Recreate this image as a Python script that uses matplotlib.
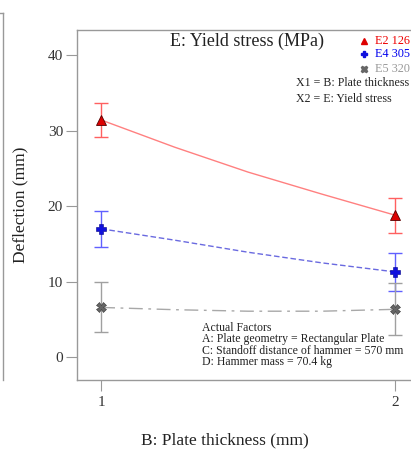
import matplotlib.pyplot as plt
from matplotlib.lines import Line2D

# points (B: plate thickness)
x_curve = [1.0, 1.25, 1.5, 1.75, 2.0]
e2_curve = [31.4, 27.8, 24.5, 21.6, 18.8]
e4_curve = [17.0, 15.5, 13.9, 12.5, 11.3]
e5_curve = [6.6, 6.3, 6.1, 6.1, 6.35]

# design points with error bars
x_pts = [1, 2]
e2_pts = [31.4, 18.8]
e2_err = [2.3, 2.3]
e4_pts = [17.0, 11.3]
e4_err = [2.4, 2.55]
e5_pts = [6.6, 6.4]
e5_err = [3.3, 3.4]

legend_labels = ["E2 126", "E4 305", "E5 320"]
factor_lines = ["Actual Factors",
                "A: Plate geometry = Rectangular Plate",
                "C: Standoff distance of hammer = 570 mm",
                "D: Hammer mass = 70.4 kg"]

plt.rcParams['font.family'] = ['Liberation Serif', 'DejaVu Serif']

fig = plt.figure(figsize=(4.11, 4.59), dpi=100)
ax = fig.add_axes([77 / 411, 1 - 380 / 459, 1 - 77 / 411, 350 / 459])

ax.plot(x_curve, e2_curve, color='#ff8080', lw=1.0, ls='-')
ax.plot(x_curve, e4_curve, color='#6a6ae0', lw=1.0, ls=(0, (4, 2)))
ax.plot(x_curve, e5_curve, color='#a8a8a8', lw=1.0, ls=(0, (10, 4, 2, 4)))

ax.errorbar(x_pts, e2_pts, yerr=e2_err, fmt='none', ecolor='#ff6060', elinewidth=1.0, capsize=5, capthick=1.0)
ax.errorbar(x_pts, e4_pts, yerr=e4_err, fmt='none', ecolor='#6060ff', elinewidth=1.0, capsize=5, capthick=1.0)
ax.errorbar(x_pts, e5_pts, yerr=e5_err, fmt='none', ecolor='#a0a0a0', elinewidth=1.0, capsize=5, capthick=1.0)

ax.plot(x_pts, e2_pts, ls='none', marker='^', ms=6.5, mfc='#dd0000', mec='#550000', mew=0.6)
ax.plot(x_pts, e4_pts, ls='none', marker='P', ms=6.5, mfc='#1010dd', mec='#000088', mew=0.4)
ax.plot(x_pts, e5_pts, ls='none', marker='X', ms=6.5, mfc='#666666', mec='#333333', mew=0.4)

ax.set_xlim(0.918, 2.054)
ax.set_ylim(-3.0, 43.3)
ax.set_xticks([1, 2])
ax.set_yticks([0, 10, 20, 30, 40])
ax.tick_params(direction='out', length=8, width=0.8, color='#999999', labelsize=11, labelcolor='#333333')
ax.tick_params(axis='y', pad=2)
for s in ['left', 'top', 'bottom']:
    ax.spines[s].set_color('#999999')
    ax.spines[s].set_linewidth(1.0)
ax.spines['right'].set_visible(False)

fig.text(20 / 411, 1 - 205 / 459, "Deflection (mm)", rotation=90, ha='center', va='center', fontsize=12.5, color='#222222')
fig.text(225 / 411, 1 - 440 / 459, "B: Plate thickness (mm)", ha='center', va='center', fontsize=12.5, color='#222222')
fig.text(247 / 411, 1 - 41 / 459, "E: Yield stress (MPa)", ha='center', va='center', fontsize=13, color='#222222')

# legend entries, placed by hand at the top right
leg_colors = ['#ee0000', '#0000ee', '#999999']
leg_markers = ['^', 'P', 'X']
leg_marker_colors = ['#dd0000', '#1010dd', '#666666']
leg_y = [40.5, 54, 69]
for lab, c, m, mc, yy in zip(legend_labels, leg_colors, leg_markers, leg_marker_colors, leg_y):
    fig.add_artist(Line2D([364 / 411], [1 - yy / 459], marker=m, ms=5, color=mc, mec=mc, ls='none'))
    fig.text(375 / 411, 1 - yy / 459, lab, ha='left', va='center', fontsize=8.8, color=c)

fig.text(296 / 411, 1 - 83.5 / 459, "X1 = B: Plate thickness", ha='left', va='center', fontsize=8.6, color='#222222')
fig.text(296 / 411, 1 - 99 / 459, "X2 = E: Yield stress", ha='left', va='center', fontsize=8.6, color='#222222')

for i, line in enumerate(factor_lines):
    fig.text(202 / 411, 1 - (328 + i * 11.3) / 459, line, ha='left', va='center', fontsize=8.5, color='#222222')

# edge of the neighbouring panel
fig.add_artist(Line2D([3 / 411, 3 / 411], [1 - 13 / 459, 1 - 380 / 459], color='#999999', lw=1.0))
fig.add_artist(Line2D([0, 3 / 411], [1 - 13 / 459, 1 - 13 / 459], color='#999999', lw=1.0))

fig.savefig("out.png", dpi=100)
